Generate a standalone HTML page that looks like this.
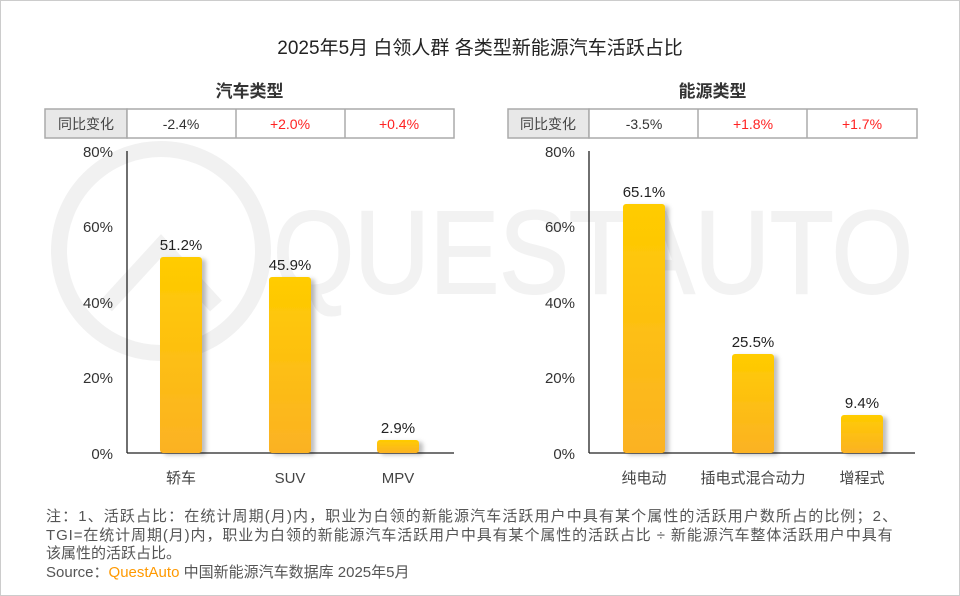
<!DOCTYPE html>
<html><head><meta charset="utf-8"><style>
body{margin:0;background:#fff}
#c{position:relative;width:958px;height:594px;border:1px solid #ccc;overflow:hidden;font-family:"Liberation Sans","Noto Sans CJK SC",sans-serif;color:#333}
.a{position:absolute;white-space:nowrap}
</style></head><body><div id="c">
<svg class="a" style="left:0;top:0" width="958" height="594">
<defs>
<linearGradient id="g" x1="0" y1="0" x2="0" y2="1"><stop offset="0" stop-color="#ffcc00"/><stop offset="1" stop-color="#fbb224"/></linearGradient>
<filter id="s" x="-20%" y="-10%" width="160%" height="130%"><feDropShadow dx="4" dy="2" stdDeviation="2" flood-color="#000" flood-opacity="0.25"/></filter>
</defs>
<g fill="none" stroke="#f1f1f1" stroke-width="16">
<circle cx="160" cy="250" r="102"/>
<polyline points="105,305 160,245 215,305"/>
</g>
<text x="272" y="292" font-size="118" fill="#f2f2f2" stroke="#f2f2f2" stroke-width="2" font-family="Liberation Sans" textLength="640" lengthAdjust="spacingAndGlyphs">QUESTAUTO</text>
<g stroke="#aaa" stroke-width="1.5">
<rect x="44" y="108" width="82" height="29" fill="#e8e8e8"/>
<rect x="126" y="108" width="327" height="29" fill="#fff"/>
<line x1="235" y1="108" x2="235" y2="137"/><line x1="344" y1="108" x2="344" y2="137"/>
<rect x="507" y="108" width="81" height="29" fill="#e8e8e8"/>
<rect x="588" y="108" width="328" height="29" fill="#fff"/>
<line x1="697" y1="108" x2="697" y2="137"/><line x1="806" y1="108" x2="806" y2="137"/>
</g>
<g font-size="14" text-anchor="middle" font-family="Liberation Sans,Noto Sans CJK SC,sans-serif">
<text x="85" y="128" fill="#444">同比变化</text>
<text x="180" y="128" fill="#333">-2.4%</text>
<text x="289" y="128" fill="#f22">+2.0%</text>
<text x="398" y="128" fill="#f22">+0.4%</text>
<text x="547" y="128" fill="#444">同比变化</text>
<text x="643" y="128" fill="#333">-3.5%</text>
<text x="752" y="128" fill="#f22">+1.8%</text>
<text x="861" y="128" fill="#f22">+1.7%</text>
</g>
<g stroke="#222" stroke-width="1.3">
<line x1="126" y1="150" x2="126" y2="452"/><line x1="126" y1="452" x2="453" y2="452"/>
<line x1="588" y1="150" x2="588" y2="452"/><line x1="588" y1="452" x2="914" y2="452"/>
</g>
<g font-size="15" fill="#333" text-anchor="end" font-family="Liberation Sans">
<text x="112" y="156">80%</text><text x="112" y="231">60%</text><text x="112" y="307">40%</text><text x="112" y="382">20%</text><text x="112" y="458">0%</text>
<text x="574" y="156">80%</text><text x="574" y="231">60%</text><text x="574" y="307">40%</text><text x="574" y="382">20%</text><text x="574" y="458">0%</text>
</g>
<g fill="url(#g)" filter="url(#s)">
<rect x="159" y="256" width="42" height="196" rx="3"/>
<rect x="268" y="276" width="42" height="176" rx="3"/>
<rect x="376" y="439" width="42" height="13" rx="3"/>
<rect x="622" y="203" width="42" height="249" rx="3"/>
<rect x="731" y="353" width="42" height="99" rx="3"/>
<rect x="840" y="414" width="42" height="38" rx="3"/>
</g>
<g font-size="15" fill="#222" text-anchor="middle" font-family="Liberation Sans">
<text x="180" y="249">51.2%</text><text x="289" y="269">45.9%</text><text x="397" y="432">2.9%</text>
<text x="643" y="196">65.1%</text><text x="752" y="346">25.5%</text><text x="861" y="407">9.4%</text>
</g>
<g font-size="15" fill="#444" text-anchor="middle" font-family="Liberation Sans,Noto Sans CJK SC,sans-serif">
<text x="180" y="482">轿车</text><text x="289" y="482">SUV</text><text x="397" y="482">MPV</text>
<text x="643" y="482">纯电动</text><text x="752" y="482">插电式混合动力</text><text x="861" y="482">增程式</text>
</g>
</svg>
<div class="a" style="left:0;width:958px;top:32px;text-align:center;font-size:19px;color:#222">2025年5月 白领人群 各类型新能源汽车活跃占比</div>
<div class="a" style="left:44px;width:409px;top:76px;text-align:center;font-size:17px;font-weight:bold;color:#333">汽车类型</div>
<div class="a" style="left:507px;width:409px;top:76px;text-align:center;font-size:17px;font-weight:bold;color:#333">能源类型</div>
<div class="a" style="left:45px;top:507px;font-size:15px;line-height:18.5px;color:#555"><span style="letter-spacing:1.1px">注：1、活跃占比：在统计周期(月)内，职业为白领的新能源汽车活跃用户中具有某个属性的活跃用户数所占的比例；2、</span><br><span style="letter-spacing:0.9px">TGI=在统计周期(月)内，职业为白领的新能源汽车活跃用户中具有某个属性的活跃占比 ÷ 新能源汽车整体活跃用户中具有</span><br>该属性的活跃占比。<br>Source：<span style="color:#f90">QuestAuto</span> 中国新能源汽车数据库 2025年5月</div>
</div></body></html>
